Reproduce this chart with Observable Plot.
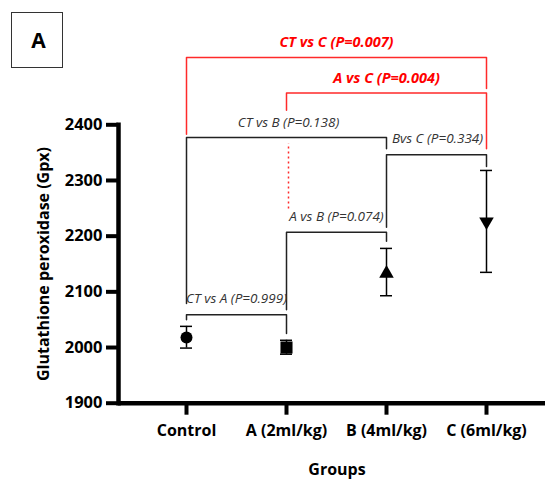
<!DOCTYPE html>
<html>
<head>
<meta charset="utf-8">
<script src="https://cdn.jsdelivr.net/npm/d3@7"></script>
<script src="https://cdn.jsdelivr.net/npm/@observablehq/plot@0.6"></script>
<style>
  html, body { margin: 0; padding: 0; background: #fff; }
  #wrap { position: relative; width: 545px; height: 479px; }
  #panel {
    position: absolute; left: 11px; top: 12px; width: 47px; height: 54px;
    border: 1.5px solid #333; font: bold 21px "Open Sans", sans-serif;
    display: flex; align-items: center; justify-content: center; color: #000;
    padding-left: 3px; box-sizing: content-box; z-index: 2;
  }
</style>
</head>
<body>
<div id="wrap"><div id="panel">A</div></div>
<script>
// ---- data ----
const groups = ["Control", "A (2ml/kg)", "B (4ml/kg)", "C (6ml/kg)"];
const means = [2018, 2000, 2133, 2226];
const lower = [1999, 1988, 2093, 2135];
const upper = [2038, 2013, 2178, 2318];
const yTicks = [1900, 2000, 2100, 2200, 2300, 2400];
const yLabel = "Glutathione peroxidase (Gpx)";
const xLabel = "Groups";

// ---- pairwise comparisons ----
const compLabels = ["CT vs A (P=0.999)", "A vs B (P=0.074)", "CT vs B (P=0.138)", "Bvs C (P=0.334)", "A vs C (P=0.004)", "CT vs C (P=0.007)"];
const compFrom = ["Control", "A (2ml/kg)", "Control", "B (4ml/kg)", "A (2ml/kg)", "Control"];
const compTo = ["A (2ml/kg)", "B (4ml/kg)", "B (4ml/kg)", "C (6ml/kg)", "C (6ml/kg)", "C (6ml/kg)"];
const compSignificant = [false, false, false, false, true, true];

// ---- annotation layout (bracket geometry in y units) ----
const bracketTop = [2059, 2207, 2377, 2346, 2457, 2521];
const bracketLeftFoot = [2050, 2068, 2079, 2216, 2426, 2383];
const bracketRightFoot = [2025, 2191, 2357, 2325, 2357, 2465];
const labelAt = ["Control", "A (2ml/kg)", "A (2ml/kg)", "B (4ml/kg)", "B (4ml/kg)", "A (2ml/kg)"];
const labelDx = [50, 50, 2, 51, 0, 50];
const labelY = [2087, 2235, 2404, 2375, 2483, 2548];
const dottedFrom = 2249, dottedTo = 2366;

const points = groups.map((g, i) => ({group: g, mean: means[i], lo: lower[i], hi: upper[i]}));

const bracketPts = [];
compLabels.forEach((lab, i) => {
  bracketPts.push({id: lab, sig: compSignificant[i], x: compFrom[i], y: bracketLeftFoot[i]});
  bracketPts.push({id: lab, sig: compSignificant[i], x: compFrom[i], y: bracketTop[i]});
  bracketPts.push({id: lab, sig: compSignificant[i], x: compTo[i], y: bracketTop[i]});
  bracketPts.push({id: lab, sig: compSignificant[i], x: compTo[i], y: bracketRightFoot[i]});
});
const labels = compLabels.map((lab, i) => ({text: lab, x: labelAt[i], y: labelY[i], dx: labelDx[i], sig: compSignificant[i]}));

const triDown = {
  draw(context, size) {
    const y = Math.sqrt(size / (Math.sqrt(3) * 3));
    context.moveTo(0, 2 * y);
    context.lineTo(Math.sqrt(3) * y, -y);
    context.lineTo(-Math.sqrt(3) * y, -y);
    context.closePath();
  }
};
const symbols = {"Control": "circle", "A (2ml/kg)": "square", "B (4ml/kg)": "triangle", "C (6ml/kg)": triDown};
const symbolR = {"Control": 6, "A (2ml/kg)": 6.8, "B (4ml/kg)": 5.4, "C (6ml/kg)": 5.4};

const RED = "#ff2a2a";
const marks = [
  // brackets
  ...compLabels.map(id => Plot.line(bracketPts.filter(d => d.id === id), {
    x: "x", y: "y",
    stroke: bracketPts.find(d => d.id === id).sig ? RED : "#222",
    strokeWidth: 1.5, curve: "linear"
  })),
  Plot.ruleX([groups[1]], {y1: dottedFrom, y2: dottedTo, stroke: RED, strokeWidth: 1.5, strokeDasharray: "2,3", dx: 2}),
  // labels
  ...labels.map(l => Plot.text([l], {
    x: "x", y: "y", text: "text", dx: l.dx,
    fontSize: l.sig ? 14.5 : 13.5,
    fontWeight: l.sig ? "bold" : "normal",
    fontStyle: "italic",
    fill: l.sig ? "#ff0000" : "#333"
  })),
  // error bars
  Plot.ruleX(points, {x: "group", y1: "lo", y2: "hi", stroke: "#000", strokeWidth: 1.5}),
  Plot.tickY(points, {x: "group", y: "lo", stroke: "#000", strokeWidth: 1.5}),
  Plot.tickY(points, {x: "group", y: "hi", stroke: "#000", strokeWidth: 1.5}),
  // markers
  ...groups.map(g => Plot.dot(points.filter(d => d.group === g), {
    x: "group", y: "mean", symbol: symbols[g], r: symbolR[g], fill: "#000", stroke: "none"
  })),
  // axes
  Plot.axisY({ticks: yTicks, tickFormat: "d", tickSize: 12, tickPadding: 4, strokeWidth: 4, fontSize: 16.5, fontWeight: "bold", fill: "#000", label: null}),
  Plot.axisX({tickSize: 12, tickPadding: 9, strokeWidth: 4, fontSize: 16, fontWeight: "bold", fill: "#000", label: null}),
  Plot.frame({anchor: "left", strokeWidth: 4.5, stroke: "#000"}),
  Plot.ruleY([1900], {strokeWidth: 4.5, stroke: "#000"}),
  Plot.text([yLabel], {text: d => d, frameAnchor: "left", textAnchor: "middle", rotate: -90, dx: -75, fontSize: 16, fontWeight: "bold", fill: "#000"}),
  Plot.text([xLabel], {text: d => d, frameAnchor: "bottom", textAnchor: "middle", dy: 71.5, dx: 5, fontSize: 16, fontWeight: "bold", fill: "#000"})
];

const chart = Plot.plot({
  width: 545,
  height: 479,
  marginTop: 124.3,
  marginBottom: 76.3,
  marginLeft: 118,
  marginRight: 0,
  style: {fontFamily: "'Open Sans', sans-serif", background: "transparent", color: "#000", overflow: "visible"},
  x: {type: "band", domain: groups, range: [179, 493.7], paddingInner: 0.881, paddingOuter: 0, label: null},
  y: {domain: [1900, 2400], label: null},
  marks
});
document.getElementById("wrap").prepend(chart);
</script>
</body>
</html>
